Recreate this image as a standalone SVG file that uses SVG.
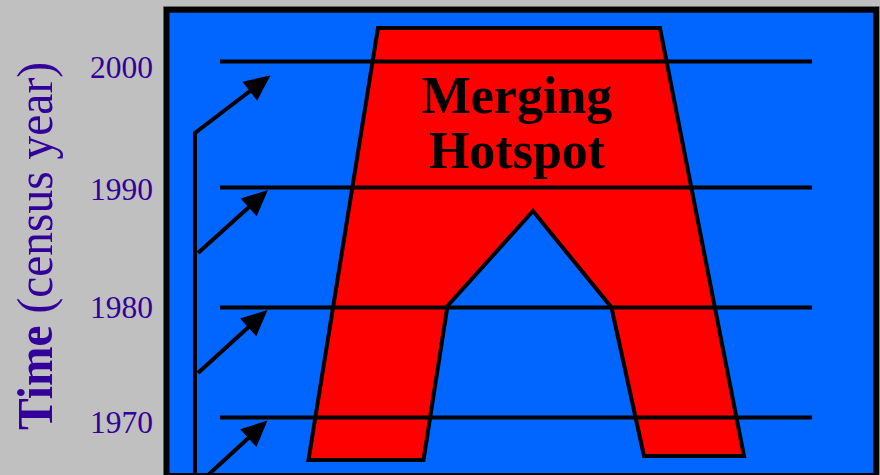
<svg xmlns="http://www.w3.org/2000/svg" width="880" height="475" viewBox="0 0 880 475">
  <defs>
    <style>
      .yr { font-family: "Liberation Serif", "Times New Roman", serif; font-size: 31.5px; fill: #330099; text-anchor: end; }
      .grid { stroke: #000; stroke-width: 4; fill: none; }
      .arr { stroke: #000; stroke-width: 4; fill: none; marker-end: url(#ah); }
      .title { font-family: "Liberation Serif", "Times New Roman", serif; font-size: 52px; font-weight: bold; fill: #000; text-anchor: middle; }
    </style>
    <marker id="ah" markerUnits="userSpaceOnUse" markerWidth="30" markerHeight="30" refX="2" refY="12" orient="auto" overflow="visible">
      <path d="M0,0 L26,12 L0,24 Z" fill="#000"/>
    </marker>
  </defs>
  <rect x="0" y="0" width="880" height="475" fill="#C0C0C0"/>
  <line x1="163" y1="6.5" x2="880" y2="6.5" stroke="#9a9a9a" stroke-width="1"/>
  <g id="frame">
    <rect x="166.5" y="9.7" width="709.8" height="466.3" fill="#0066FF" stroke="#000" stroke-width="6"/>
  </g>
  <g id="hotspot">
    <polygon points="378,28 660,28 744,456 644,456 611.5,307.5 533,211 447.5,306 423.5,460 308.5,460" fill="#FF0000" stroke="#000" stroke-width="4" stroke-linejoin="miter"/>
    <text class="title" x="517" y="113">Merging</text>
    <text class="title" x="517" y="168">Hotspot</text>
  </g>
  <g id="census-lines">
    <line class="grid" x1="220" y1="61.5" x2="812" y2="61.5"/>
    <line class="grid" x1="220" y1="187.5" x2="812" y2="187.5"/>
    <line class="grid" x1="220" y1="307.5" x2="812" y2="307.5"/>
    <line class="grid" x1="220" y1="417.5" x2="812" y2="417.5"/>
  </g>
  <g id="axis-labels">
    <text class="yr" x="153" y="78">2000</text>
    <text class="yr" x="153" y="200">1990</text>
    <text class="yr" x="153" y="318">1980</text>
    <text class="yr" x="153" y="433">1970</text>
    <text transform="translate(51.5,430) rotate(-90)" font-family="Liberation Serif, Times New Roman, serif" font-size="50" fill="#330099" textLength="368" lengthAdjust="spacingAndGlyphs"><tspan font-weight="bold">Time</tspan> (census year)</text>
  </g>
  <g id="connectors">
    <path class="arr" d="M195,476 L195,133 L251.4,90"/>
    <path class="arr" d="M198,253 L250.2,206.1"/>
    <path class="arr" d="M198,373 L249.7,326.1"/>
    <path class="arr" d="M207,476 L249.8,436.7"/>
  </g>
</svg>
